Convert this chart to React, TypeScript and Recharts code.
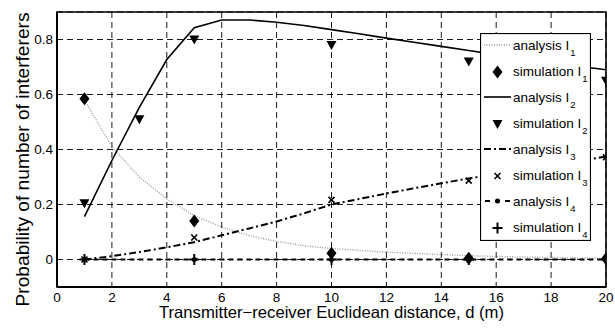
import React from 'react';
import { ComposedChart, Line, Scatter, XAxis, YAxis, CartesianGrid, Legend, ReferenceArea, Label } from 'recharts';

const analysisX = [1, 2, 3, 4, 5, 6, 7, 8, 9, 10, 11, 12, 13, 14, 15, 16, 17, 18, 19, 20];
const analysisI1 = [0.58, 0.41, 0.3, 0.22, 0.16, 0.118, 0.087, 0.066, 0.05, 0.04, 0.033, 0.027, 0.022, 0.018, 0.014, 0.011, 0.009, 0.007, 0.005, 0.004];
const analysisI2 = [0.156, 0.36, 0.553, 0.727, 0.843, 0.871, 0.871, 0.863, 0.851, 0.836, 0.821, 0.805, 0.79, 0.775, 0.76, 0.745, 0.73, 0.716, 0.703, 0.69];
const analysisI3 = [0, 0.012, 0.027, 0.044, 0.063, 0.088, 0.113, 0.138, 0.168, 0.2, 0.22, 0.24, 0.259, 0.277, 0.295, 0.31, 0.325, 0.34, 0.357, 0.375];
const analysisI4X = [1, 5, 10, 15, 20];
const analysisI4 = [0, 0, 0, 0, 0];

const simX = [1, 5, 10, 15, 20];
const simI1 = [0.585, 0.14, 0.023, 0.005, 0.003];
const simI2X = [1, 3, 5, 10, 15, 20];
const simI2 = [0.205, 0.51, 0.8, 0.78, 0.72, 0.65];
const simI3 = [0, 0.08, 0.217, 0.287, 0.372];
const simI4 = [0, 0, 0, 0, 0];

const xTicks = [0, 2, 4, 6, 8, 10, 12, 14, 16, 18, 20];
const yTicks = [0, 0.2, 0.4, 0.6, 0.8];

const legendItems = [
  { kind: 'dotted', label: 'analysis I', sub: '1' },
  { kind: 'diamond', label: 'simulation I', sub: '1' },
  { kind: 'solid', label: 'analysis I', sub: '2' },
  { kind: 'triangle', label: 'simulation I', sub: '2' },
  { kind: 'dashdot', label: 'analysis I', sub: '3' },
  { kind: 'x', label: 'simulation I', sub: '3' },
  { kind: 'dasheddot', label: 'analysis I', sub: '4' },
  { kind: 'plus', label: 'simulation I', sub: '4' },
];

const zip = (xs: number[], ys: number[]) => xs.map((x, i) => ({ x, y: ys[i] }));

const FONT = '"Liberation Sans", Arial, Helvetica, sans-serif';

const Diamond = (p: any) => {
  const { cx, cy } = p;
  if (cx == null || cy == null) return null;
  return <polygon points={`${cx},${cy - 6.5} ${cx + 5},${cy} ${cx},${cy + 6.5} ${cx - 5},${cy}`} fill="#000" />;
};
const TriDown = (p: any) => {
  const { cx, cy } = p;
  if (cx == null || cy == null) return null;
  return <polygon points={`${cx - 5},${cy - 4} ${cx + 5},${cy - 4} ${cx},${cy + 5}`} fill="#000" />;
};
const XMark = (p: any) => {
  const { cx, cy } = p;
  if (cx == null || cy == null) return null;
  return (
    <g stroke="#000" strokeWidth={1.6}>
      <line x1={cx - 3} y1={cy - 3} x2={cx + 3} y2={cy + 3} />
      <line x1={cx - 3} y1={cy + 3} x2={cx + 3} y2={cy - 3} />
    </g>
  );
};
const Plus = (p: any) => {
  const { cx, cy } = p;
  if (cx == null || cy == null) return null;
  return (
    <g stroke="#000" strokeWidth={2}>
      <line x1={cx - 5} y1={cy} x2={cx + 5} y2={cy} />
      <line x1={cx} y1={cy - 5.5} x2={cx} y2={cy + 5.5} />
    </g>
  );
};
const Dot = (p: any) => {
  const { cx, cy, key } = p;
  if (cx == null || cy == null) return null;
  return <circle key={key} cx={cx} cy={cy} r={2.5} fill="#000" />;
};

const renderLegend = () => {
  const W = 111;
  const H = 208;
  return (
    <svg width={W} height={H} style={{ display: 'block' }}>
      <rect x={0.5} y={0.5} width={W - 1} height={H - 1} fill="#fff" stroke="#000" strokeWidth={1.2} />
      {legendItems.map((it, i) => {
        const cy = 12 + i * 26;
        const x1 = 4;
        const x2 = 31;
        const mx = 17.5;
        let icon: React.ReactNode = null;
        if (it.kind === 'dotted') icon = <line x1={x1} y1={cy} x2={x2} y2={cy} stroke="#999" strokeWidth={1.4} strokeDasharray="1 1.5" />;
        if (it.kind === 'solid') icon = <line x1={x1} y1={cy} x2={x2} y2={cy} stroke="#000" strokeWidth={1.6} />;
        if (it.kind === 'dashdot') icon = <line x1={x1} y1={cy} x2={x2} y2={cy} stroke="#000" strokeWidth={2} strokeDasharray="7 3 2 3" />;
        if (it.kind === 'dasheddot')
          icon = (
            <g>
              <line x1={x1} y1={cy} x2={x2} y2={cy} stroke="#000" strokeWidth={2} strokeDasharray="5 5" strokeDashoffset={-1} />
              <circle cx={mx} cy={cy} r={2.5} fill="#000" />
            </g>
          );
        if (it.kind === 'diamond') icon = <Diamond cx={mx} cy={cy + 1} />;
        if (it.kind === 'triangle') icon = <TriDown cx={mx} cy={cy + 1} />;
        if (it.kind === 'x') icon = <XMark cx={mx} cy={cy + 1} />;
        if (it.kind === 'plus') icon = <Plus cx={mx} cy={cy + 1} />;
        return (
          <g key={i}>
            {icon}
            <text x={33} y={cy + 5} fontFamily={FONT} fontSize={13.5} fill="#000">
              {it.label}
              <tspan fontSize={9.5} dx={1} dy={6}>{it.sub}</tspan>
            </text>
          </g>
        );
      })}
    </svg>
  );
};

const XLabel = (props: any) => {
  const vb = props.viewBox || {};
  return (
    <text x={vb.x + vb.width / 2} y={vb.y + 31} textAnchor="middle" fontFamily={FONT} fontSize={16.5} fill="#000" textLength={345} lengthAdjust="spacingAndGlyphs">
      Transmitter−receiver Euclidean distance, d (m)
    </text>
  );
};

const YLabel = (props: any) => {
  const vb = props.viewBox || {};
  const cx = 29;
  const cy = vb.y + vb.height / 2 + 10;
  return (
    <text x={cx} y={cy} transform={`rotate(-90, ${cx}, ${cy})`} textAnchor="middle" fontFamily={FONT} fontSize={18.5} fill="#000" textLength={294} lengthAdjust="spacingAndGlyphs">
      Probability of number of interferers
    </text>
  );
};

export default function App() {
  return (
    <div style={{ position: 'absolute', left: 0, top: 0, width: 615, height: 329, background: '#fff' }}>
      <ComposedChart width={615} height={329} margin={{ top: 12, right: 9, bottom: 12, left: 0 }}>
        <CartesianGrid stroke="#000" strokeWidth={0.9} strokeDasharray="6 4" />
        <XAxis
          type="number"
          dataKey="x"
          domain={[0, 20]}
          ticks={xTicks}
          interval={0}
          allowDataOverflow
          height={30}
          tickSize={0}
          tickMargin={5}
          axisLine={{ stroke: '#000', strokeWidth: 2 }}
          tick={{ fill: '#000', fontSize: 13.5, fontFamily: FONT }}
        >
          <Label content={<XLabel />} />
        </XAxis>
        <YAxis
          type="number"
          domain={[-0.1, 0.9]}
          ticks={yTicks}
          interval={0}
          allowDataOverflow
          width={57}
          tickSize={0}
          tickMargin={4}
          axisLine={{ stroke: '#000', strokeWidth: 2 }}
          tick={{ fill: '#000', fontSize: 13.5, fontFamily: FONT }}
        >
          <Label content={<YLabel />} />
        </YAxis>
        <ReferenceArea x1={0} x2={20} y1={-0.1} y2={0.9} fill="none" stroke="#000" strokeWidth={1.6} ifOverflow="visible" />
        <Line data={zip(analysisX, analysisI1)} dataKey="y" type="linear" stroke="#999" strokeWidth={1.4} strokeDasharray="1 1.5" dot={false} isAnimationActive={false} legendType="none" />
        <Scatter data={zip(simX, simI1)} dataKey="y" shape={(p: any) => <Diamond {...p} />} isAnimationActive={false} legendType="none" />
        <Line data={zip(analysisX, analysisI2)} dataKey="y" type="linear" stroke="#000" strokeWidth={1.6} dot={false} isAnimationActive={false} legendType="none" />
        <Scatter data={zip(simI2X, simI2)} dataKey="y" shape={(p: any) => <TriDown {...p} />} isAnimationActive={false} legendType="none" />
        <Line data={zip(analysisX, analysisI3)} dataKey="y" type="linear" stroke="#000" strokeWidth={2} strokeDasharray="7 3 2 3" dot={false} isAnimationActive={false} legendType="none" />
        <Scatter data={zip(simX, simI3)} dataKey="y" shape={(p: any) => <XMark {...p} />} isAnimationActive={false} legendType="none" />
        <Line data={zip(analysisI4X, analysisI4)} dataKey="y" type="linear" stroke="#000" strokeWidth={2} strokeDasharray="5 4" dot={(p: any) => <Dot {...p} />} isAnimationActive={false} legendType="none" />
        <Scatter data={zip(simX, simI4)} dataKey="y" shape={(p: any) => <Plus {...p} />} isAnimationActive={false} legendType="none" />
        <Legend
          layout="vertical"
          align="center"
          verticalAlign="middle"
          content={renderLegend}
          wrapperStyle={{ position: 'absolute', left: 480, top: 33, width: 111, height: 208 }}
        />
      </ComposedChart>
    </div>
  );
}
